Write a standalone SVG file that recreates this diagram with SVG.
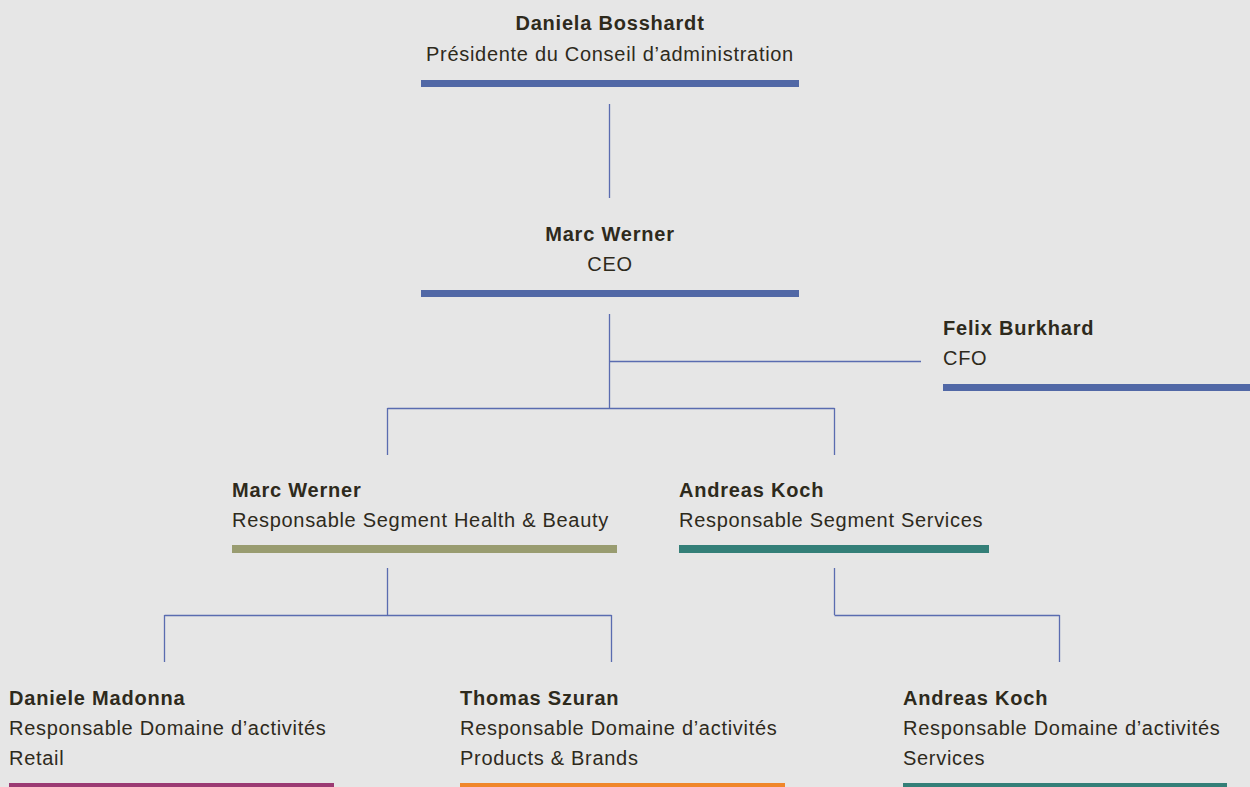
<svg xmlns="http://www.w3.org/2000/svg" width="1250" height="787" viewBox="0 0 1250 787">
<style>
text{font-family:"Liberation Sans",Arial,sans-serif;font-size:20px;fill:#2e2a1c;letter-spacing:0.7px}
.b{font-weight:bold;letter-spacing:0.8px}
.c{text-anchor:middle}
.ln{stroke:#5a6cb0;stroke-width:1.3;fill:none}
</style>
<rect width="1250" height="787" fill="#e6e6e6"/>
<g id="connectors">
<path class="ln" d="M609.5 104V198M609.5 314V408M609.5 361.5H921M387.5 408.5H834.5M387.5 408V455M834.5 408V455M387.5 568V615M164.5 615.5H611.5M164.5 615V662M611.5 615V662M834.5 568V615M834.5 615.5H1059.5M1059.5 615V662"/>
</g>
<g id="n-bosshardt">
<text class="b c" x="610" y="30">Daniela Bosshardt</text>
<text class="c" x="610" y="61">Présidente du Conseil d’administration</text>
<rect x="421" y="80" width="378" height="7" fill="#5168a6"/>
</g>
<g id="n-werner-ceo">
<text class="b c" x="610" y="241">Marc Werner</text>
<text class="c" x="610" y="271">CEO</text>
<rect x="421" y="290" width="378" height="7" fill="#5168a6"/>
</g>
<g id="n-burkhard">
<text class="b" x="943" y="335">Felix Burkhard</text>
<text x="943" y="365">CFO</text>
<rect x="943" y="384" width="307" height="7" fill="#5168a6"/>
</g>
<g id="n-werner-hb">
<text class="b" x="232" y="497">Marc Werner</text>
<text x="232" y="527">Responsable Segment Health &amp; Beauty</text>
<rect x="232" y="545" width="385" height="8" fill="#999c70"/>
</g>
<g id="n-koch-seg">
<text class="b" x="679" y="497">Andreas Koch</text>
<text x="679" y="527">Responsable Segment Services</text>
<rect x="679" y="545" width="310" height="8" fill="#347f78"/>
</g>
<g id="n-madonna">
<text class="b" x="9" y="705">Daniele Madonna</text>
<text x="9" y="735">Responsable Domaine d’activités</text>
<text x="9" y="765">Retail</text>
<rect x="9" y="783" width="325" height="6" fill="#9b3a73"/>
</g>
<g id="n-szuran">
<text class="b" x="460" y="705">Thomas Szuran</text>
<text x="460" y="735">Responsable Domaine d’activités</text>
<text x="460" y="765">Products &amp; Brands</text>
<rect x="460" y="783" width="325" height="6" fill="#f0862a"/>
</g>
<g id="n-koch-dom">
<text class="b" x="903" y="705">Andreas Koch</text>
<text x="903" y="735">Responsable Domaine d’activités</text>
<text x="903" y="765">Services</text>
<rect x="903" y="783" width="324" height="6" fill="#347f78"/>
</g>
</svg>
